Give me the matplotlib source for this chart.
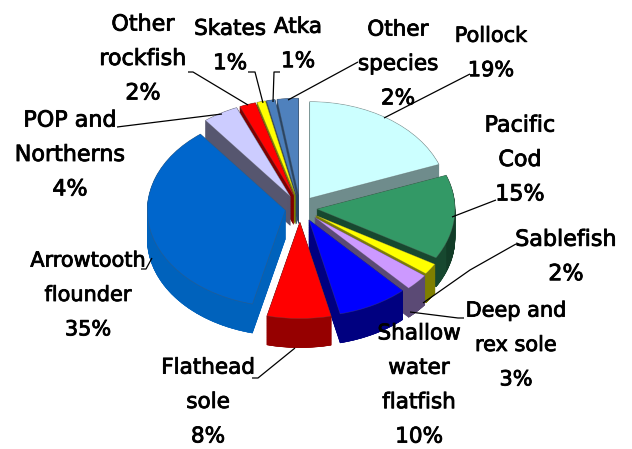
import matplotlib
matplotlib.use('Agg')
from matplotlib import pyplot as plt
from matplotlib import patheffects
from matplotlib.colors import to_rgb
from matplotlib.patches import Polygon, Wedge
import numpy as np

# slice sizes as drawn in the picture (they differ a bit from the printed labels)
shares = [19.4, 14.2, 1.9, 2.8, 8.3, 7.5, 35.8, 4.2, 1.9, 1.0, 1.0, 2.5]
labels = ['Pollock\n19%', 'Pacific\nCod\n15%', 'Sablefish\n2%', 'Deep and\nrex sole\n3%',
          'Shallow\nwater\nflatfish\n10%', 'Flathead\nsole\n8%', 'Arrowtooth\nflounder\n35%',
          'POP and\nNortherns\n4%', 'Other\nrockfish\n2%', 'Skates\n1%', 'Atka\n1%',
          'Other\nspecies\n2%']
top_colors = ['#CCFFFF', '#339966', '#FFFF00', '#CC99FF', '#0000FF', '#FF0000', '#0066CC',
              '#CCCCFF', '#FF0000', '#FFFF00', '#4A7EBB', '#4F81BD']
wall_left = ['#6F8C8C', '#17482F', '#7F7F00', '#5B4A75', '#000080', '#960000', '#0062BC',
             '#56566F', '#800000', '#7F7F00', '#284566', '#284566']
wall_right = ['#6F8C8C', '#123C27', '#6B6B00', '#5B4A75', '#000070', '#5E0000', '#003062',
              '#56566F', '#800000', '#7F7F00', '#284566', '#284566']
explode = [17, 17, 19, 20, 19, 20, 15, 19, 19, 19, 19, 19]

# label placement and leader lines, in picture pixels
label_xy = [(491, 53), (520, 160), (566, 257), (516, 345), (419, 385), (208, 402), (88, 295),
            (70, 155), (143, 59), (230, 46), (298, 44), (398, 64)]
label_size = [15, 16, 16, 15, 15.5, 15.5, 15, 16, 16, 15.5, 15.5, 15.5]
leaders = [[(384, 118), (470, 74)], [(452, 217), (496, 200)],
           [(423, 303), (470, 270), (516, 244)], [(410, 312), (458, 318), (464, 318)],
           [(295, 348), (258, 378), (252, 378)], [(152, 258), (146, 269), (141, 269)],
           [(222, 114), (117, 127)], [(248, 105), (193, 72), (188, 72)],
           [(263, 103), (255, 72), (248, 72)], [(273, 102), (274, 72), (280, 72)],
           [(288, 100), (358, 62)]]

W, H = 632, 449
SQUASH = 0.70  # tilt of the pie
DEPTH = 29 / SQUASH
PIE_CENTER = (300, (H - 208) / SQUASH)


def px(x, y):
    return x, (H - y) / SQUASH


fig = plt.figure(figsize=(W / 100, H / 100), dpi=100)
ax = fig.add_axes([0, 0, 1, 1])
wedges, _ = ax.pie(shares, colors=top_colors, explode=explode, startangle=90, counterclock=False,
                   radius=138, center=PIE_CENTER, frame=True)
ax.set_aspect('auto')
ax.set_xlim(0, W)
ax.set_ylim(0, H / SQUASH)
ax.axis('off')

mids = [np.sin(np.radians((w.theta1 + w.theta2) / 2)) for w in wedges]
order = np.argsort(mids)[::-1]

for rank, i in enumerate(order):
    w = wedges[i]
    z = 2 + rank * 3
    cx, cy = w.center
    light, dark = np.array(to_rgb(wall_left[i])), np.array(to_rgb(wall_right[i]))
    # solid extrusion gives the two radial faces
    for off in np.arange(DEPTH, 0, -1.0):
        ax.add_patch(Wedge((cx, cy - off), w.r, w.theta1, w.theta2, facecolor=light,
                           edgecolor=light, lw=0.4, zorder=z))
    # outer wall shaded from left to right
    angles = np.linspace(w.theta1, w.theta2, 60)
    for a0, a1 in zip(angles[:-1], angles[1:]):
        if np.sin(np.radians((a0 + a1) / 2)) > 0:
            continue
        t = (np.cos(np.radians(a0)) - np.cos(np.radians(w.theta2))) / max(
            np.cos(np.radians(w.theta1)) - np.cos(np.radians(w.theta2)), 1e-6)
        x0, y0 = cx + w.r * np.cos(np.radians(a0)), cy + w.r * np.sin(np.radians(a0))
        x1, y1 = cx + w.r * np.cos(np.radians(a1)), cy + w.r * np.sin(np.radians(a1))
        col = light + (dark - light) * np.clip(t, 0, 1)
        ax.add_patch(Polygon([(x0, y0), (x1, y1), (x1, y1 - DEPTH), (x0, y0 - DEPTH)],
                             facecolor=col, edgecolor=col, lw=0.4, zorder=z + 1))
    w.set_zorder(z + 2)
    w.set_edgecolor('#55555566')
    w.set_linewidth(0.5)

for pts in leaders:
    xs, ys = zip(*[px(*p) for p in pts])
    ax.plot(xs, ys, color='black', lw=0.9, zorder=60, solid_capstyle='butt')

for text, (x, y), size in zip(labels, label_xy, label_size):
    dx, dy = px(x, y)
    t = ax.text(dx, dy, text, ha='center', va='center', fontsize=size, color='black',
                family='DejaVu Sans', linespacing=1.9, zorder=70)
    t.set_path_effects([patheffects.withStroke(linewidth=0.6, foreground='black')])

fig.savefig('out.png', dpi=100)
